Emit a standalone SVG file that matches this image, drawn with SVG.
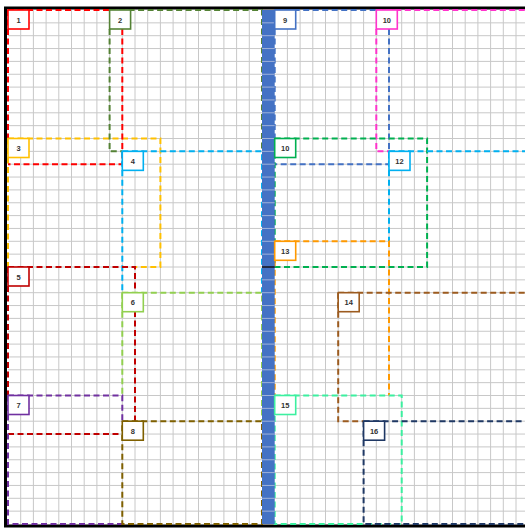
<svg xmlns="http://www.w3.org/2000/svg" width="525" height="528" viewBox="0 0 525 528">
<style>
.g{fill:none;stroke:#c8c8c8;stroke-width:1}
.d{fill:none;stroke-width:2;stroke-dasharray:6 3.5}
.n rect{fill:#fff;stroke-width:1.6}
.n text{font-family:"Liberation Sans",Arial,sans-serif;font-size:7.5px;font-weight:bold;fill:#333;text-anchor:middle}
</style>
<rect x="0" y="0" width="525" height="528" fill="#fff"/>
<g id="grid">
<path class="g" d="M20.7 10V524M33.4 10V524M46.1 10V524M58.8 10V524M71.5 10V524M84.2 10V524M96.9 10V524M109.6 10V524M122.3 10V524M135 10V524M147.7 10V524M160.4 10V524M173.1 10V524M185.8 10V524M198.5 10V524M211.2 10V524M223.9 10V524M236.6 10V524M249.3 10V524M287.4 10V524M300.1 10V524M312.8 10V524M325.5 10V524M338.2 10V524M350.9 10V524M363.6 10V524M376.3 10V524M389 10V524M401.7 10V524M414.4 10V524M427.1 10V524M439.8 10V524M452.5 10V524M465.2 10V524M477.9 10V524M490.6 10V524M503.3 10V524M516 10V524"/>
<path class="g" d="M8 22.85H525M8 35.7H525M8 48.55H525M8 61.4H525M8 74.25H525M8 87.1H525M8 99.95H525M8 112.8H525M8 125.65H525M8 138.5H525M8 151.35H525M8 164.2H525M8 177.05H525M8 189.9H525M8 202.75H525M8 215.6H525M8 228.45H525M8 241.3H525M8 254.15H525M8 267H525M8 279.85H525M8 292.7H525M8 305.55H525M8 318.4H525M8 331.25H525M8 344.1H525M8 356.95H525M8 369.8H525M8 382.65H525M8 395.5H525M8 408.35H525M8 421.2H525M8 434.05H525M8 446.9H525M8 459.75H525M8 472.6H525M8 485.45H525M8 498.3H525M8 511.15H525"/>
</g>
<g id="border" fill="none" stroke="#000" stroke-width="3">
<path d="M5.5 6.5V527.5M4 8H525M4 526H525"/>
</g>
<g id="connectors">
<path class="d" stroke="#ffc000" d="M8 138.5H160.4V267H135M8 138.5V267"/>
<path class="d" stroke="#ff0000" d="M8 10H109.6M8 10V138.5M122.3 29V164.2H8"/>
<path class="d" stroke="#548235" d="M109.6 10H262V151.35M109.6 29V151.35H122.3"/>
<path class="d" stroke="#00b0f0" d="M122.3 151.35H262V292.7M122.3 151.35V292.7"/>
<path class="d" stroke="#c00000" d="M8 267H135V421.2M8 267V395.5M8 434.05H122.3"/>
<path class="d" stroke="#92d050" d="M122.3 292.7H262V421.2M122.3 292.7V395.5"/>
<path class="d" stroke="#7030a0" d="M8 395.5H122.3V421.2M8 395.5V524H122.3"/>
<path class="d" stroke="#7f6000" d="M122.3 421.2H262V524H122.3V421.2"/>
<path class="d" stroke="#4472c4" d="M274.7 10H376.3M274.7 10V138.5M389 29V164.2H274.7"/>
<path class="d" stroke="#ff33cc" d="M376.3 10H525M376.3 29V151.35H389"/>
<path class="d" stroke="#00b050" d="M274.7 138.5H427.1V267H274.7V138.5"/>
<path class="d" stroke="#00b0f0" d="M389 151.35H525M389 151.35V241.3"/>
<path class="d" stroke="#ff9900" d="M274.7 241.3H389V395.5M274.7 241.3V395.5"/>
<path class="d" stroke="#9c5b1f" d="M338.2 292.7H525M338.2 292.7V421.2H363.6"/>
<path class="d" stroke="#3cf0a0" d="M274.7 395.5H401.7V524H274.7V395.5"/>
<path class="d" stroke="#1f3864" d="M363.6 421.2H525M363.6 421.2V524H525"/>
</g>
<g id="bar">
<rect x="262" y="10" width="12.7" height="514" fill="#4472c4"/>
<path fill="none" stroke="#9fb2da" stroke-width="1" d="M262 22.85h12.7M262 35.7h12.7M262 48.55h12.7M262 61.4h12.7M262 74.25h12.7M262 87.1h12.7M262 99.95h12.7M262 112.8h12.7M262 125.65h12.7M262 138.5h12.7M262 151.35h12.7M262 164.2h12.7M262 177.05h12.7M262 189.9h12.7M262 202.75h12.7M262 215.6h12.7M262 228.45h12.7M262 241.3h12.7M262 254.15h12.7M262 279.85h12.7M262 292.7h12.7M262 305.55h12.7M262 318.4h12.7M262 331.25h12.7M262 344.1h12.7M262 356.95h12.7M262 369.8h12.7M262 382.65h12.7M262 395.5h12.7M262 408.35h12.7M262 421.2h12.7M262 434.05h12.7M262 446.9h12.7M262 459.75h12.7M262 472.6h12.7M262 485.45h12.7M262 498.3h12.7M262 511.15h12.7"/>
<path d="M262 267H274.7" stroke="#1f2a44" stroke-width="2"/>
</g>
<g id="node-1" class="n"><rect x="8" y="10" width="21" height="19" stroke="#ff0000"/><text x="18.5" y="22.5">1</text></g>
<g id="node-2" class="n"><rect x="109.6" y="10" width="21" height="19" stroke="#548235"/><text x="120.1" y="22.5">2</text></g>
<g id="node-3" class="n"><rect x="8" y="138.5" width="21" height="19" stroke="#ffc000"/><text x="18.5" y="151">3</text></g>
<g id="node-4" class="n"><rect x="122.3" y="151.35" width="21" height="19" stroke="#00b0f0"/><text x="132.8" y="163.85">4</text></g>
<g id="node-5" class="n"><rect x="8" y="267" width="21" height="19" stroke="#c00000"/><text x="18.5" y="279.5">5</text></g>
<g id="node-6" class="n"><rect x="122.3" y="292.7" width="21" height="19" stroke="#92d050"/><text x="132.8" y="305.2">6</text></g>
<g id="node-7" class="n"><rect x="8" y="395.5" width="21" height="19" stroke="#7030a0"/><text x="18.5" y="408">7</text></g>
<g id="node-8" class="n"><rect x="122.3" y="421.2" width="21" height="19" stroke="#7f6000"/><text x="132.8" y="433.7">8</text></g>
<g id="node-9" class="n"><rect x="274.7" y="10" width="21" height="19" stroke="#4472c4"/><text x="285.2" y="22.5">9</text></g>
<g id="node-10" class="n"><rect x="376.3" y="10" width="21" height="19" stroke="#ff33cc"/><text x="386.8" y="22.5">10</text></g>
<g id="node-10b" class="n"><rect x="274.7" y="138.5" width="21" height="19" stroke="#00b050"/><text x="285.2" y="151">10</text></g>
<g id="node-12" class="n"><rect x="389" y="151.35" width="21" height="19" stroke="#00b0f0"/><text x="399.5" y="163.85">12</text></g>
<g id="node-13" class="n"><rect x="274.7" y="241.3" width="21" height="19" stroke="#ff9900"/><text x="285.2" y="253.8">13</text></g>
<g id="node-14" class="n"><rect x="338.2" y="292.7" width="21" height="19" stroke="#9c5b1f"/><text x="348.7" y="305.2">14</text></g>
<g id="node-15" class="n"><rect x="274.7" y="395.5" width="21" height="19" stroke="#3cf0a0"/><text x="285.2" y="408">15</text></g>
<g id="node-16" class="n"><rect x="363.6" y="421.2" width="21" height="19" stroke="#1f3864"/><text x="374.1" y="433.7">16</text></g>
</svg>
